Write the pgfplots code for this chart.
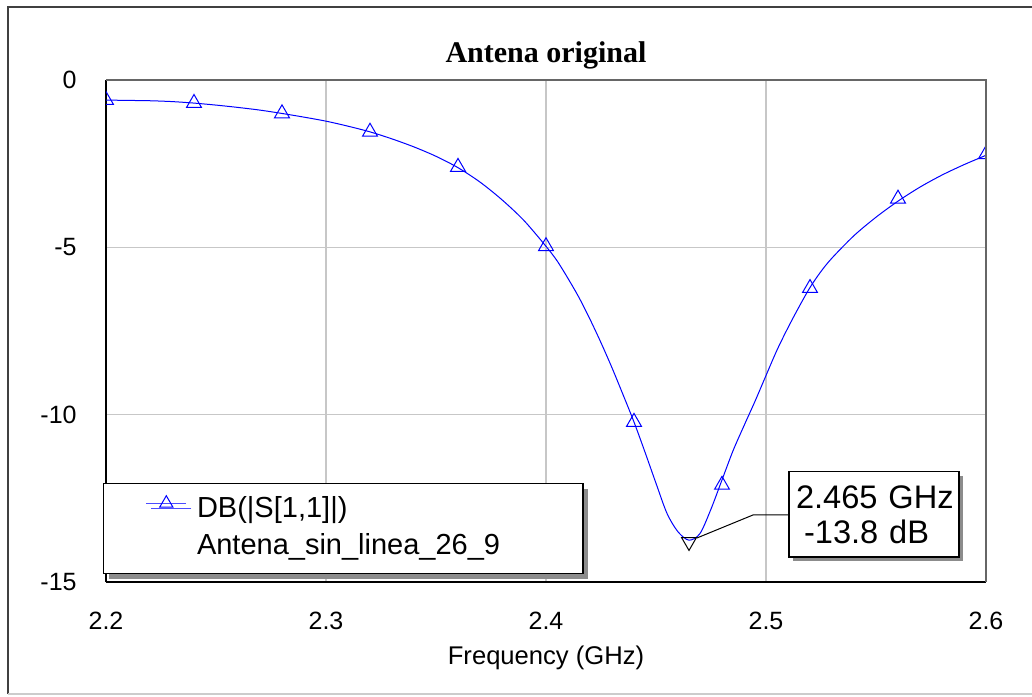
\documentclass[border=0pt]{standalone}
\usepackage{pgfplots}
\pgfplotsset{compat=1.18}
\usepackage{fontspec}
\setmainfont{Liberation Sans}
\newfontfamily\titlefont{Liberation Serif}
\usetikzlibrary{shadows}
\begin{document}
\begin{tikzpicture}
\useasboundingbox (0,0) rectangle (516pt,348pt);
\draw[line width=0.8pt, black!75] (4pt,1pt) -- (4pt,344.5pt) -- (530pt,344.5pt);
\draw[line width=0.6pt, black!20] (4pt,1pt) -- (530pt,1pt);
\begin{axis}[
  at={(53pt,57pt)}, anchor=south west,
  scale only axis, width=440pt, height=251pt,
  xmin=2.2, xmax=2.6, ymin=-15, ymax=0,
  axis x line*=bottom, axis y line*=left,
  xtick={2.2,2.3,2.4,2.5,2.6}, xticklabels={2.2,2.3,2.4,2.5,2.6},
  ytick={-15,-10,-5,0}, yticklabels={-15,-10,-5,0},
  major tick length=0pt,
  grid=major, major grid style={draw=black!22, line width=0.6pt},
  axis line style={draw=black, line width=0.6pt},
  ticklabel style={font=\fontsize{12.5}{15}\selectfont},
  xticklabel style={inner sep=0pt, anchor=north, yshift=-15pt},
  yticklabel style={inner sep=0pt, anchor=east, xshift=-14.5pt},
  clip marker paths=true,
  legend cell align=left,
  legend style={at={(axis description cs:-0.0034,0.197)}, anchor=north west,
    draw=black, line width=0.6pt, fill=white,
    font=\fontsize{14.5}{17}\selectfont,
    inner xsep=21pt, inner ysep=6pt, row sep=4pt, column sep=5pt,
    nodes={inner sep=0pt, text height=11pt, text depth=3.5pt},
    drop shadow={shadow xshift=2.5pt, shadow yshift=-2.5pt, fill=black!45, opacity=1}},
  legend image code/.code={\draw[#1, mark repeat=2, mark phase=2] plot coordinates {(0pt,3.5pt) (10pt,3.5pt) (20pt,3.5pt)};},
]
\addplot[blue, line width=0.5pt, smooth, forget plot] coordinates {
(2.200,-0.60) (2.210,-0.61) (2.220,-0.62) (2.230,-0.645) (2.240,-0.69)
(2.250,-0.75) (2.260,-0.82) (2.270,-0.90) (2.280,-1.00) (2.290,-1.11)
(2.300,-1.23) (2.310,-1.38) (2.320,-1.55) (2.330,-1.76) (2.340,-2.00)
(2.350,-2.28) (2.360,-2.62) (2.370,-3.05) (2.380,-3.58) (2.390,-4.20)
(2.400,-4.97) (2.405,-5.40) (2.410,-5.93) (2.415,-6.50) (2.420,-7.15)
(2.425,-7.85) (2.430,-8.60) (2.435,-9.40) (2.440,-10.22) (2.445,-11.12)
(2.450,-12.05) (2.455,-12.95) (2.460,-13.50) (2.465,-13.75) (2.470,-13.55)
(2.475,-12.82) (2.480,-11.95) (2.485,-11.08) (2.490,-10.33) (2.495,-9.60)
(2.500,-8.83) (2.505,-8.07) (2.510,-7.40) (2.515,-6.78) (2.520,-6.20)
(2.525,-5.72) (2.530,-5.32) (2.540,-4.65) (2.550,-4.10) (2.560,-3.62)
(2.570,-3.20) (2.580,-2.84) (2.590,-2.53) (2.600,-2.25)
};
\addplot[only marks, mark=triangle, mark size=4.3pt, mark options={blue, line width=0.5pt}, forget plot] coordinates {
(2.20,-0.60) (2.24,-0.69) (2.28,-1.00) (2.32,-1.55) (2.36,-2.60) (2.40,-4.97)
(2.44,-10.22) (2.48,-12.10) (2.52,-6.22) (2.56,-3.55) (2.60,-2.22)
};
\addplot[only marks, mark=triangle, mark size=4.3pt, mark options={black, line width=0.5pt, rotate=180}, forget plot] coordinates {(2.465,-13.8)};
\draw[black, line width=0.5pt] (axis cs:2.4686,-13.685) -- (axis cs:2.4941,-12.997) -- (axis cs:2.5105,-12.997);
\node[draw=black, line width=0.6pt, fill=white,
  drop shadow={shadow xshift=2pt, shadow yshift=-2pt, fill=black!45, opacity=1},
  text width=82pt, inner xsep=1.5pt, inner ysep=0pt, minimum height=42.5pt,
  align=left, font=\fontsize{16.3}{17.5}\selectfont]
  at (axis cs:2.5491,-12.98) {\mbox{\hspace*{2pt}2.465 GHz}\\\mbox{\hspace*{6pt}-13.8 dB}};
\addlegendimage{blue!70, line width=0.7pt, mark=triangle, mark size=3.8pt, mark options={blue, line width=0.5pt}}
\addlegendentry{DB(|S[1,1]|)}
\addlegendimage{empty legend}
\addlegendentry{\makebox[172pt][l]{Antena\_sin\_linea\_26\_9}}
\end{axis}
\draw[black!60, line width=0.6pt] (53pt,308pt) -- (493pt,308pt) -- (493pt,57pt);
\node[anchor=base, font=\titlefont\bfseries\fontsize{15}{18}\selectfont] at (273pt,316.5pt) {Antena original};
\node[anchor=base, font=\fontsize{12.8}{15}\selectfont] at (273pt,16pt) {Frequency (GHz)};
\end{tikzpicture}
\end{document}
